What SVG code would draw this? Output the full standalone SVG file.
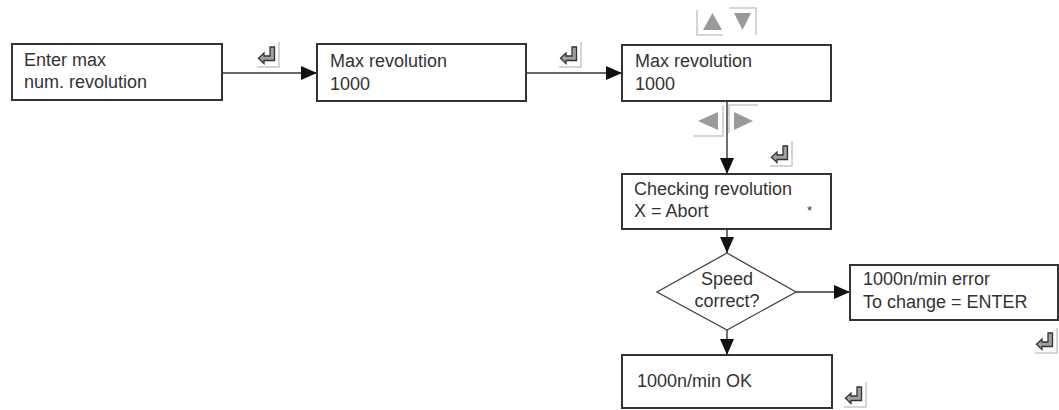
<svg xmlns="http://www.w3.org/2000/svg" xmlns:xlink="http://www.w3.org/1999/xlink" width="1059" height="410" viewBox="0 0 1059 410">
<style>
.box{fill:#fff;stroke:#333;stroke-width:2}
.dia{fill:#fff;stroke:#444;stroke-width:1.3}
.t{font-family:"Liberation Sans",Arial,sans-serif;font-size:18px;fill:#333}
.ln{stroke:#333;stroke-width:1.4;fill:none}
.frame{stroke:#c8c8c8;stroke-width:1.5;fill:none}
.tri{fill:#9a9a9a}
</style>
<defs>
<marker id="ah" viewBox="0 0 16 14" refX="16" refY="7" markerWidth="16" markerHeight="14" markerUnits="userSpaceOnUse" orient="auto">
<path d="M0,0 L16,7 L0,14 Z" fill="#111"/>
</marker>
<g id="enter">
<path class="frame" d="M24,1 V26 H2"/>
<path d="M15,6 H19.5 V19.5 H9 V22.5 L3.5,17.25 L9,12 V15 H15 Z" fill="#a0a0a0" stroke="#333" stroke-width="1.3" stroke-linejoin="miter"/>
</g>
</defs>

<g id="connectors">
<line class="ln" x1="222" y1="73" x2="317" y2="73" marker-end="url(#ah)"/>
<line class="ln" x1="526" y1="73" x2="622" y2="73" marker-end="url(#ah)"/>
<line class="ln" x1="727" y1="101" x2="727" y2="174" marker-end="url(#ah)"/>
<line class="ln" x1="727" y1="229" x2="727" y2="253" marker-end="url(#ah)"/>
<line class="ln" x1="727" y1="330" x2="727" y2="355" marker-end="url(#ah)"/>
<line class="ln" x1="796" y1="292" x2="850" y2="292" marker-end="url(#ah)"/>
</g>

<g id="node1">
<rect class="box" x="12" y="44" width="210" height="56"/>
<text class="t" x="24" y="66">Enter max</text>
<text class="t" x="24" y="88">num. revolution</text>
</g>
<g id="node2">
<rect class="box" x="317" y="44" width="209" height="57"/>
<text class="t" x="330" y="67">Max revolution</text>
<text class="t" x="330" y="90">1000</text>
</g>
<g id="node3">
<rect class="box" x="622" y="45" width="209" height="56"/>
<text class="t" x="635" y="67">Max revolution</text>
<text class="t" x="635" y="90">1000</text>
</g>
<g id="node4">
<rect class="box" x="622" y="174" width="209" height="55"/>
<text class="t" x="634" y="195">Checking revolution</text>
<text class="t" x="634" y="217">X = Abort</text>
<text class="t" x="807" y="215" style="font-size:13px">*</text>
</g>
<g id="node5">
<polygon class="dia" points="727,253 796,292 727,330 657,292"/>
<text class="t" x="727" y="285" text-anchor="middle">Speed</text>
<text class="t" x="727" y="307" text-anchor="middle">correct?</text>
</g>
<g id="node6">
<rect class="box" x="850" y="265" width="208" height="55"/>
<text class="t" x="863" y="285">1000n/min error</text>
<text class="t" x="863" y="308">To change = ENTER</text>
</g>
<g id="node7">
<rect class="box" x="622" y="355" width="210" height="53"/>
<text class="t" x="637" y="387">1000n/min OK</text>
</g>

<g id="keys">
<use xlink:href="#enter" x="255" y="41"/>
<use xlink:href="#enter" x="557" y="41"/>
<use xlink:href="#enter" x="768" y="140"/>
<use xlink:href="#enter" x="1033" y="327"/>
<use xlink:href="#enter" x="842" y="381"/>
<path class="frame" d="M697,10 V35 H723"/>
<polygon class="tri" points="712.5,13 722,30 703,30"/>
<path class="frame" d="M729,8 H756 V35"/>
<polygon class="tri" points="734,13 751,13 742.5,30"/>
<path class="frame" d="M723,105 V136 H693"/>
<polygon class="tri" points="698,121 718,112 718,130"/>
<path class="frame" d="M729,133 V105 H758"/>
<polygon class="tri" points="753,121 734,112 734,130"/>
</g>
</svg>
